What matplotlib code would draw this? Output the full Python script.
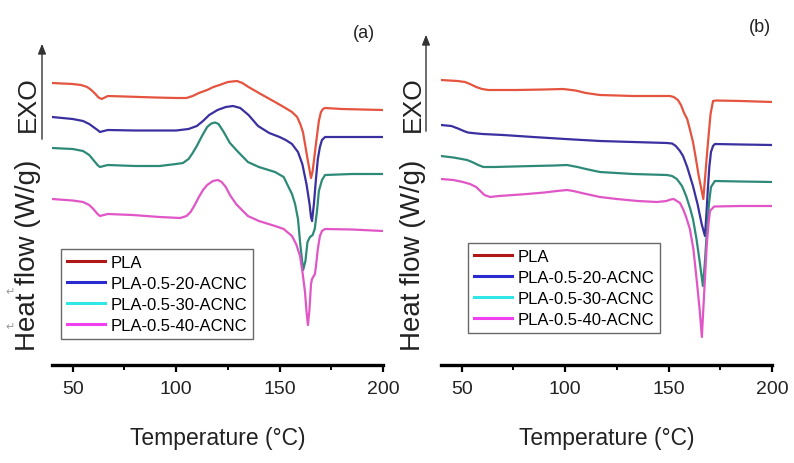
import matplotlib
matplotlib.use("Agg")
import matplotlib.pyplot as plt
from matplotlib.lines import Line2D
from matplotlib.ticker import MultipleLocator

# ---- panel (a) ----
t_a_pla = [40, 45, 50, 54, 57, 59, 61, 62.5, 64, 67, 75, 90, 100, 105, 108, 111, 115, 118, 121, 125,
           129.4, 132, 135, 140, 147.8, 152, 156, 158.5, 160, 161.3, 162.3, 163.7, 165.2, 166, 167, 168,
           169, 170, 171, 172, 180, 200]
hf_a_pla = [2.82, 2.815, 2.81, 2.80, 2.78, 2.75, 2.71, 2.675, 2.66, 2.69, 2.685, 2.675, 2.67, 2.67, 2.69,
            2.72, 2.75, 2.78, 2.80, 2.83, 2.84, 2.82, 2.78, 2.72, 2.63, 2.58, 2.53, 2.48, 2.41, 2.33, 2.21,
            2.04, 1.87, 1.94, 2.11, 2.28, 2.44, 2.53, 2.56, 2.57, 2.56, 2.55]

t_a_20 = [40, 50, 55, 58, 60, 62, 63.2, 65, 67, 80, 100, 106, 110, 113, 116, 120, 124, 127.5, 131, 135,
          139.6, 145, 150, 153, 156, 158.9, 161, 163, 164.5, 165.2, 165.7, 166.6, 167.6, 168.5, 169.5,
          170.5, 172, 180, 200]
hf_a_20 = [2.48, 2.46, 2.44, 2.41, 2.38, 2.35, 2.33, 2.34, 2.35, 2.345, 2.345, 2.36, 2.39, 2.44, 2.50,
           2.55, 2.58, 2.59, 2.57, 2.50, 2.39, 2.32, 2.28, 2.25, 2.21, 2.13, 2.01, 1.81, 1.61, 1.48, 1.44,
           1.61, 1.86, 2.06, 2.18, 2.25, 2.28, 2.28, 2.28]

t_a_30 = [40, 50, 55, 58, 60, 62, 63.2, 65, 67, 80, 92, 100, 103.3, 106, 108, 110, 112.5, 115, 117, 118.8,
          120.5, 123, 126, 130, 134.7, 140, 147.8, 152, 154.1, 156, 157.5, 158.9, 160, 161.4, 162.5, 163.5,
          164.7, 166, 167, 168.1, 169, 170.5, 172, 185, 200]
hf_a_30 = [2.17, 2.16, 2.14, 2.10, 2.05, 2.00, 1.98, 1.99, 2.00, 1.99, 1.99, 2.01, 2.02, 2.06, 2.12, 2.19,
           2.29, 2.38, 2.415, 2.425, 2.41, 2.33, 2.22, 2.13, 2.03, 1.98, 1.93, 1.88, 1.79, 1.71, 1.61, 1.46,
           1.21, 0.95, 1.04, 1.23, 1.28, 1.30, 1.36, 1.54, 1.74, 1.85, 1.90, 1.91, 1.91]

t_a_40 = [40, 50, 55, 58, 60, 62, 63.2, 65, 67, 79, 92, 102, 105, 107, 109, 111, 113, 115, 117.8, 120.2,
          122, 124, 126, 129, 131.8, 134.7, 140, 147.8, 152, 156, 158, 159.9, 161.2, 162.3, 163, 163.7,
          164.4, 165.2, 165.7, 167.1, 167.6, 168.5, 169.5, 170.5, 172, 185, 200]
hf_a_40 = [1.66, 1.645, 1.63, 1.60, 1.56, 1.51, 1.49, 1.50, 1.51, 1.50, 1.48, 1.47, 1.49, 1.53, 1.60,
           1.68, 1.75, 1.80, 1.84, 1.85, 1.83, 1.78, 1.70, 1.61, 1.55, 1.49, 1.44, 1.39, 1.36, 1.29, 1.21,
           1.09, 0.91, 0.73, 0.54, 0.40, 0.54, 0.81, 0.86, 0.91, 0.99, 1.16, 1.29, 1.34, 1.36, 1.355, 1.34]

# ---- panel (b) ----
t_b_pla = [40, 48, 51.6, 54, 57, 59.8, 63, 70, 76.7, 90, 99, 105, 110, 116.8, 125, 132.8, 150.7, 152.5,
           154.5, 156, 157.5, 159, 160.5, 161.8, 163, 164.5, 166.8, 167.8, 168.7, 169.5, 170.3, 171.5,
           173, 185, 200]
hf_b_pla = [2.85, 2.84, 2.83, 2.81, 2.78, 2.76, 2.75, 2.75, 2.75, 2.755, 2.76, 2.745, 2.72, 2.70, 2.695,
            2.69, 2.69, 2.68, 2.65, 2.60, 2.52, 2.46, 2.34, 2.23, 2.09, 1.90, 1.66, 1.91, 2.14, 2.33, 2.51,
            2.64, 2.645, 2.64, 2.63]

t_b_20 = [40, 45, 48.2, 51, 53, 55, 60, 70, 84.5, 100, 116.8, 132.8, 149.2, 151.7, 153.5, 155.5, 157, 159,
          161.8, 164, 166, 167.6, 168.3, 169, 169.7, 170.5, 171.5, 172.4, 185, 200]
hf_b_20 = [2.40, 2.39, 2.365, 2.34, 2.325, 2.32, 2.31, 2.30, 2.28, 2.26, 2.24, 2.23, 2.22, 2.215, 2.19,
           2.14, 2.09, 1.98, 1.79, 1.61, 1.41, 1.29, 1.51, 1.76, 1.98, 2.13, 2.19, 2.21, 2.205, 2.20]

t_b_30 = [40, 46, 50, 52.6, 55, 58, 60.5, 62.7, 66, 75, 84.5, 95, 100.9, 106, 110, 116.8, 132.8, 149.2,
          151.7, 154, 156.5, 158.5, 160.5, 161.8, 163.5, 165, 166.6, 167.5, 168.5, 169.5, 170.5, 172.4,
          185, 200]
hf_b_30 = [2.09, 2.075, 2.06, 2.05, 2.03, 2.00, 1.98, 1.98, 1.98, 1.985, 1.99, 1.995, 2.00, 1.98, 1.96,
           1.93, 1.91, 1.90, 1.89, 1.86, 1.79, 1.69, 1.56, 1.46, 1.26, 1.04, 0.79, 1.01, 1.33, 1.61, 1.78,
           1.84, 1.835, 1.83]

t_b_40 = [40, 46, 50.6, 54, 57, 59, 61, 63.7, 68, 75, 81.6, 90, 96, 100.9, 104, 108, 116.8, 125, 135,
          144.4, 149, 151, 152.5, 154, 155.5, 157, 158.5, 160.3, 162, 163.7, 165, 166.1, 166.8, 167.5,
          168.5, 169.3, 170, 172, 185, 200]
hf_b_40 = [1.86, 1.85, 1.83, 1.81, 1.78, 1.74, 1.70, 1.68, 1.69, 1.70, 1.71, 1.725, 1.74, 1.75, 1.74,
           1.72, 1.68, 1.66, 1.64, 1.63, 1.64, 1.655, 1.66, 1.64, 1.62, 1.56, 1.48, 1.36, 1.16, 0.83, 0.56,
           0.28, 0.56, 0.83, 1.21, 1.41, 1.54, 1.585, 1.59, 1.59]

labels = ["PLA", "PLA-0.5-20-ACNC", "PLA-0.5-30-ACNC", "PLA-0.5-40-ACNC"]
curve_colors = ["#e4543e", "#3a30a0", "#2e8a78", "#e056c6"]
legend_colors = ["#b01818", "#2a2ad0", "#30e6e6", "#f040f0"]

plain = ["Liberation Sans", "DejaVu Sans"]

fig = plt.figure(figsize=(7.94, 4.64), dpi=100)

panels = [
    ([t_a_pla, t_a_20, t_a_30, t_a_40], [hf_a_pla, hf_a_20, hf_a_30, hf_a_40]),
    ([t_b_pla, t_b_20, t_b_30, t_b_40], [hf_b_pla, hf_b_20, hf_b_30, hf_b_40]),
]
lefts = [52 / 794, 441 / 794]
tags = ["(a)", "(b)"]
tag_pos = [(364 / 794, 1 - 34 / 464), (760 / 794, 1 - 27 / 464)]
legend_pos = [(61 / 794, 1 - 250 / 464), (468 / 794, 1 - 244 / 464)]
arrow_x = [42 / 794, 426 / 794]
arrow_y = [(143, 42), (135, 33)]
ylab_x = [28 / 794, 413 / 794]

for i, (ts, hfs) in enumerate(panels):
    ax = fig.add_axes([lefts[i], 1 - 366 / 464, 331 / 794, 336 / 464])
    for t, hf, c in zip(ts, hfs, curve_colors):
        ax.plot(t, hf, color=c, lw=1.6)
    ax.set_xlim(40, 200)
    ax.set_ylim(0, 3.36)
    for s in ["left", "right", "top"]:
        ax.spines[s].set_visible(False)
    ax.spines["bottom"].set_linewidth(2.4)
    ax.set_yticks([])
    ax.xaxis.set_major_locator(MultipleLocator(50))
    ax.xaxis.set_minor_locator(MultipleLocator(25))
    ax.tick_params(axis="x", which="major", direction="out", length=5, width=1.6, pad=5.5)
    ax.tick_params(axis="x", which="minor", direction="out", length=3.5, width=1.4)
    for lab in ax.get_xticklabels():
        lab.set_family(plain)
        lab.set_fontsize(14)
        lab.set_color("#222222")
    ax.set_xlabel("Temperature (°C)", family=plain, fontsize=16.5, labelpad=21, color="#222222")

    handles = [Line2D([], [], color=c, lw=2.2) for c in legend_colors]
    leg = fig.legend(handles, labels, loc="upper left", bbox_to_anchor=legend_pos[i],
                     prop={"family": plain, "size": 12}, frameon=True, fancybox=False,
                     edgecolor="#444444", handlelength=2.3, handletextpad=0.3,
                     labelspacing=0.36, borderpad=0.35, borderaxespad=0)
    leg.get_frame().set_linewidth(1.0)

    fig.text(tag_pos[i][0], tag_pos[i][1], tags[i], family=plain, fontsize=13,
             ha="center", va="center", color="#222222")

    # EXO arrow and rotated labels
    fig.add_artist(matplotlib.patches.FancyArrowPatch(
        (arrow_x[i], 1 - arrow_y[i][0] / 464), (arrow_x[i], 1 - arrow_y[i][1] / 464),
        transform=fig.transFigure, arrowstyle="-|>,head_length=3,head_width=1.2",
        mutation_scale=2, lw=1.0, color="#333333"))
    fig.text(ylab_x[i], 1 - 104 / 464, "EXO", family=plain, fontsize=19, rotation=90,
             ha="center", va="center", color="#222222")
    fig.text(ylab_x[i], 1 - 255 / 464, "Heat flow (W/g)", family=plain, fontsize=20, rotation=90,
             ha="center", va="center", color="#222222")

# stray return marks left over from the source document
fig.text(10 / 794, 1 - 292 / 464, "↵", family="DejaVu Sans", fontsize=8, color="#999999",
         ha="center", va="center")
fig.text(10 / 794, 1 - 327 / 464, "↵", family="DejaVu Sans", fontsize=8, color="#999999",
         ha="center", va="center")

fig.savefig("out.png", dpi=100)
